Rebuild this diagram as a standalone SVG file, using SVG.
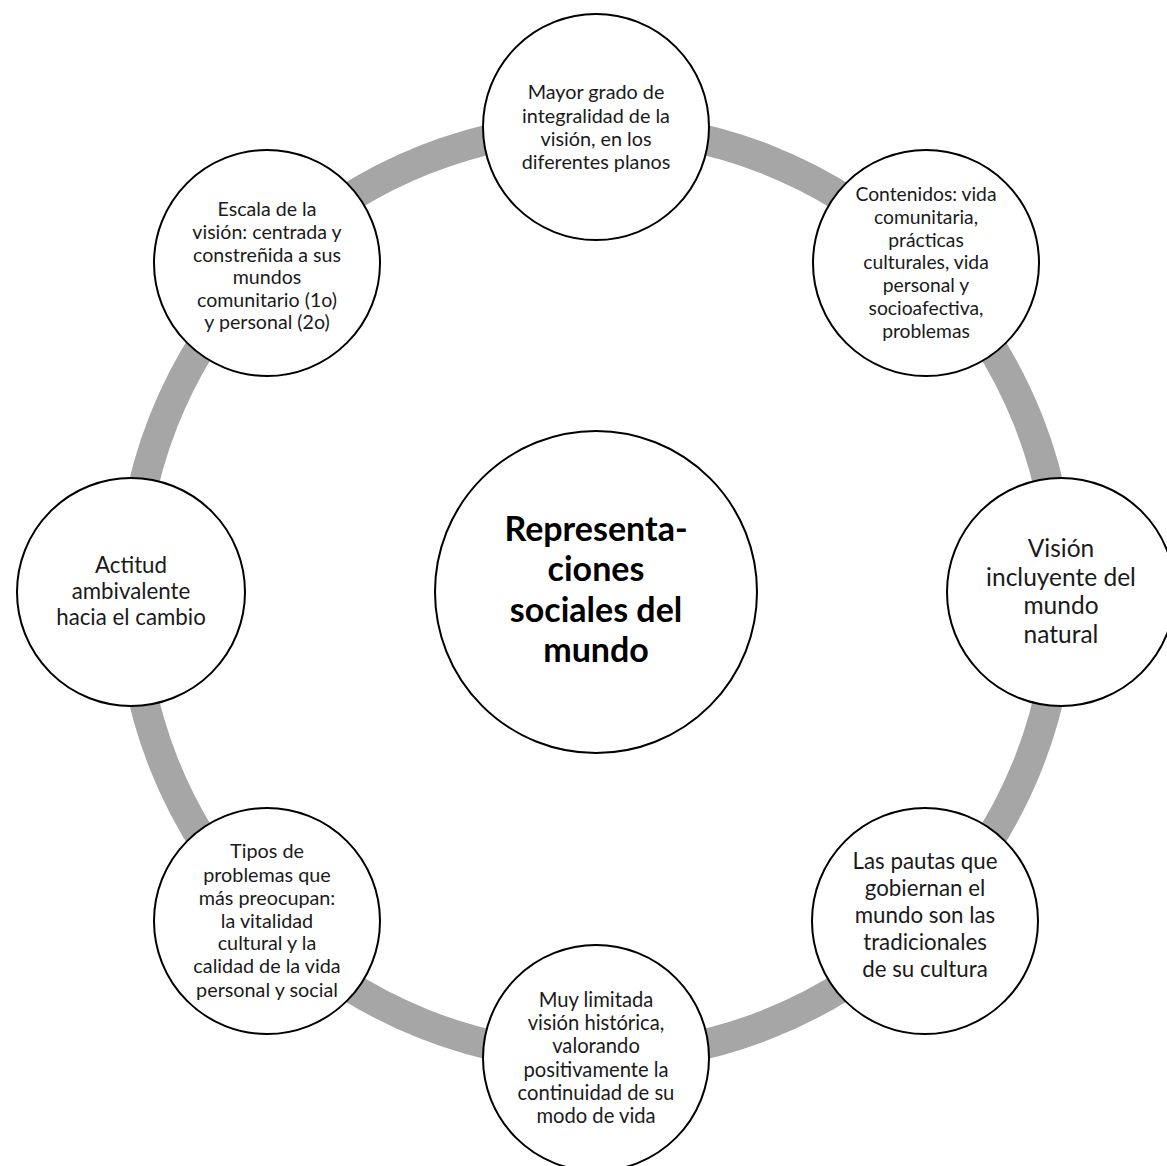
<svg xmlns="http://www.w3.org/2000/svg" width="1167" height="1166" viewBox="0 0 1167 1166">
<style>
.node{fill:#ffffff;stroke:#000000;stroke-width:2}
.t{font-family:Lato,"Open Sans","Liberation Sans",sans-serif;fill:#1a1a1a;text-anchor:middle}
.c{font-family:Lato,"Open Sans","Liberation Sans",sans-serif;fill:#000000;text-anchor:middle;font-weight:bold;font-size:34px}
</style>
<rect width="1167" height="1166" fill="#ffffff"/>
<g id="connectors">
<circle cx="596" cy="592" r="465" fill="none" stroke="#a6a6a6" stroke-width="30"/>
</g>
<g id="node-center">
<circle class="node" cx="596" cy="592" r="161"/>
<text class="c"><tspan x="596" y="541">Representa-</tspan><tspan x="596" y="581">ciones</tspan><tspan x="596" y="622">sociales del</tspan><tspan x="596" y="662">mundo</tspan></text>
</g>
<g id="node-top">
<circle class="node" cx="596" cy="127" r="113"/>
<text class="t" font-size="19.8"><tspan x="596" y="99">Mayor grado de</tspan><tspan x="596" y="123">integralidad de la</tspan><tspan x="596" y="146">visión, en los</tspan><tspan x="596" y="169">diferentes planos</tspan></text>
</g>
<g id="node-top-right">
<circle class="node" cx="926" cy="263" r="113"/>
<text class="t" font-size="19.3"><tspan x="926" y="201">Contenidos: vida</tspan><tspan x="926" y="224">comunitaria,</tspan><tspan x="926" y="247">prácticas</tspan><tspan x="926" y="269">culturales, vida</tspan><tspan x="926" y="292">personal y</tspan><tspan x="926" y="315">socioafectiva,</tspan><tspan x="926" y="338">problemas</tspan></text>
</g>
<g id="node-right">
<circle class="node" cx="1061" cy="592" r="114"/>
<text class="t" font-size="24.5"><tspan x="1061" y="557">Visión</tspan><tspan x="1061" y="585.5">incluyente del</tspan><tspan x="1061" y="614">mundo</tspan><tspan x="1061" y="642.5">natural</tspan></text>
</g>
<g id="node-bottom-right">
<circle class="node" cx="925" cy="921" r="113"/>
<text class="t" font-size="22.3"><tspan x="925" y="869">Las pautas que</tspan><tspan x="925" y="896">gobiernan el</tspan><tspan x="925" y="923">mundo son las</tspan><tspan x="925" y="950">tradicionales</tspan><tspan x="925" y="977">de su cultura</tspan></text>
</g>
<g id="node-bottom">
<circle class="node" cx="596" cy="1058" r="113"/>
<text class="t" font-size="20.2"><tspan x="596" y="1007">Muy limitada</tspan><tspan x="596" y="1030">visión histórica,</tspan><tspan x="596" y="1053">valorando</tspan><tspan x="596" y="1077">positivamente la</tspan><tspan x="596" y="1100">continuidad de su</tspan><tspan x="596" y="1123">modo de vida</tspan></text>
</g>
<g id="node-bottom-left">
<circle class="node" cx="267" cy="921" r="113"/>
<text class="t" font-size="19.8"><tspan x="267" y="858">Tipos de</tspan><tspan x="267" y="882">problemas que</tspan><tspan x="267" y="905">más preocupan:</tspan><tspan x="267" y="928">la vitalidad</tspan><tspan x="267" y="950">cultural y la</tspan><tspan x="267" y="973">calidad de la vida</tspan><tspan x="267" y="997">personal y social</tspan></text>
</g>
<g id="node-left">
<circle class="node" cx="131" cy="592" r="114"/>
<text class="t" font-size="22.3"><tspan x="131" y="573">Actitud</tspan><tspan x="131" y="599">ambivalente</tspan><tspan x="131" y="625">hacia el cambio</tspan></text>
</g>
<g id="node-top-left">
<circle class="node" cx="267" cy="263" r="113"/>
<text class="t" font-size="19.6"><tspan x="267" y="216">Escala de la</tspan><tspan x="267" y="239">visión: centrada y</tspan><tspan x="267" y="262">constreñida a sus</tspan><tspan x="267" y="284">mundos</tspan><tspan x="267" y="307">comunitario (1o)</tspan><tspan x="267" y="329">y personal (2o)</tspan></text>
</g>
</svg>
